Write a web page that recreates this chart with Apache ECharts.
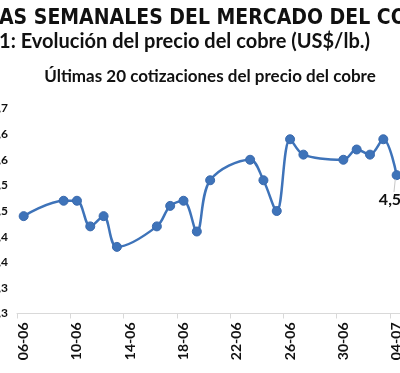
<!DOCTYPE html>
<html>
<head>
<meta charset="utf-8">
<script src="https://cdn.jsdelivr.net/npm/echarts@6/dist/echarts.min.js"></script>
<style>
  html, body { margin: 0; padding: 0; background: #fff; }
  #chart { width: 400px; height: 373px; }
</style>
</head>
<body>
<div id="chart"></div>
<script>
// ---- data ----
const dates = ['06-06','09-06','10-06','11-06','12-06','13-06','16-06','17-06','18-06','19-06','20-06',
               '23-06','24-06','25-06','26-06','27-06','30-06','01-07','02-07','03-07','04-07'];
const prices = [4.49, 4.52, 4.52, 4.47, 4.49, 4.43, 4.47, 4.51, 4.52, 4.46, 4.56,
                4.60, 4.56, 4.50, 4.64, 4.61, 4.60, 4.62, 4.61, 4.64, 4.57];
const xTickLabels = ['06-06','10-06','14-06','18-06','22-06','26-06','30-06','04-07'];
const yTickLabels = ['4,3','4,3','4,4','4,4','4,5','4,5','4,6','4,6','4,7'];
const lastLabel = '4,57';
const year = 2025;

// ---- helpers ----
function dayNum(s) {
  const [d, m] = s.split('-').map(Number);
  return Date.UTC(year, m - 1, d) / 86400000;
}
const base = dayNum(dates[0]);
const xs = dates.map(d => dayNum(d) - base);
const labelDays = xTickLabels.map(d => dayNum(d) - base);
const tickDays = labelDays.map(v => v - 0.5);
const lastIdx = xs.length - 1;
const seriesData = xs.map((x, i) => [x, prices[i]]);

const chart = echarts.init(document.getElementById('chart'), null, { renderer: 'canvas' });
chart.setOption({
  animation: false,
  backgroundColor: '#fff',
  graphic: [
    { type: 'text', x: -1, y: 19, style: { text: 'AS SEMANALES DEL MERCADO DEL COBRE',
        font: 'bold 21px "DejaVu Sans Condensed", "DejaVu Sans", sans-serif', fill: '#111',
        verticalAlign: 'middle' } },
    { type: 'text', x: 370, y: 42, style: { text: 'Gráfico 1: Evolución del precio del cobre (US$/lb.)',
        font: 'bold 20px Lato, sans-serif', fill: '#111', align: 'right', verticalAlign: 'middle' } },
    { type: 'text', x: 210, y: 77, style: { text: 'Últimas 20 cotizaciones del precio del cobre',
        font: 'bold 17px Lato, sans-serif', fill: '#111', align: 'center', verticalAlign: 'middle' } }
  ],
  grid: { left: 17, right: -3.3, top: 108.5, bottom: 59.5, outerBoundsMode: 'none', containLabel: false },
  xAxis: {
    type: 'value', min: -0.5, max: 28.5,
    axisLine: { show: true, lineStyle: { color: '#d9d9d9', width: 1 } },
    axisTick: { show: true, customValues: tickDays, length: 5, lineStyle: { color: '#d9d9d9' } },
    splitLine: { show: false },
    axisLabel: {
      show: true, customValues: labelDays, rotate: 90, margin: 9,
      fontSize: 14, fontWeight: 'bold', color: '#111', fontFamily: 'Lato, sans-serif',
      formatter: v => xTickLabels[labelDays.indexOf(Math.round(v))] || ''
    }
  },
  yAxis: {
    type: 'value', min: 4.3, max: 4.7, interval: 0.05,
    axisLine: { show: false }, axisTick: { show: false }, splitLine: { show: false },
    axisLabel: {
      margin: 9, fontSize: 12, fontWeight: 'bold', color: '#111', fontFamily: 'Lato, sans-serif',
      formatter: v => yTickLabels[Math.round((v - 4.3) / 0.05)] || ''
    }
  },
  series: [{
    type: 'line', data: seriesData, smooth: 0.35, clip: false,
    symbol: 'circle', symbolSize: 9,
    lineStyle: { color: '#3E73B9', width: 2.5 },
    itemStyle: { color: '#3E73B9', borderColor: '#3A6AAE', borderWidth: 1 },
    markPoint: {
      silent: true, symbol: 'circle', symbolSize: 1,
      itemStyle: { color: 'rgba(0,0,0,0)' },
      label: {
        show: true, position: 'bottom', distance: 16, offset: [-2, 0],
        formatter: lastLabel, color: '#111', fontSize: 16, fontWeight: 'bold',
        fontFamily: 'Lato, sans-serif'
      },
      data: [{ coord: [xs[lastIdx], prices[lastIdx]] }]
    },
    markLine: {
      silent: true, symbol: 'none', label: { show: false },
      lineStyle: { color: '#c8c8c8', width: 1, type: 'solid' },
      data: [[
        { coord: [xs[lastIdx] - 0.1, prices[lastIdx] - 0.008] },
        { coord: [xs[lastIdx] - 0.2, prices[lastIdx] - 0.033] }
      ]]
    }
  }]
});
</script>
</body>
</html>
